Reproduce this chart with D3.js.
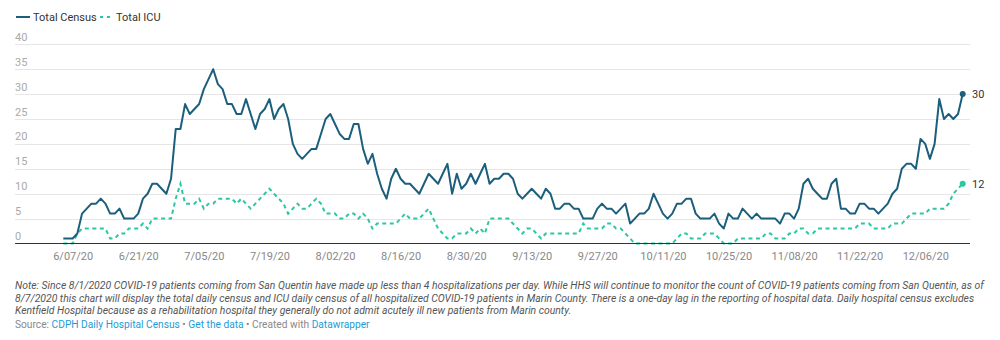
<!DOCTYPE html>
<html>
<head>
<meta charset="utf-8">
<script src="https://cdn.jsdelivr.net/npm/d3@7"></script>
<style>
  body { margin: 0; background: #fff; font-family: Roboto, "Noto Sans", sans-serif; }
  svg { display: block; }
</style>
</head>
<body>
<div id="chart"></div>
<script>
// daily values, first day 6/05/20, last day 12/14/20
var startDate = "2020-06-05";
var census = [
  1,1,1,2,6,7,8,8,9,8,
  6,6,7,5,5,5,6,9,10,12,
  12,11,10,13,23,23,28,26,27,28,
  31,33,35,32,31,28,28,26,26,29,
  26,23,26,27,29,25,27,28,25,20,
  18,17,18,19,19,22,25,26,24,22,
  21,21,24,24,19,16,18,14,11,9,
  13,15,13,12,12,11,10,12,14,13,
  12,14,16,10,14,11,12,14,12,14,
  16,12,13,13,14,14,13,10,9,10,
  11,10,9,11,10,7,7,8,8,7,
  7,5,5,5,7,8,7,7,6,7,
  8,4,5,6,6,7,10,8,6,5,
  6,8,8,9,9,6,5,5,5,6,
  4,3,6,5,5,7,6,5,6,5,
  5,5,5,4,6,6,5,7,12,13,
  11,10,9,9,12,13,7,7,6,6,
  8,8,7,7,6,7,8,10,11,15,
  16,16,15,21,20,17,20,29,25,26,
  25,26,30
];
var icu = [
  0,0,0,2,3,3,3,3,3,3,
  1,1,2,2,3,3,3,4,3,5,
  5,5,5,5,9,12,8,8,8,9,
  7,8,8,9,9,9,9,8,9,8,
  7,8,9,10,11,10,9,8,6,7,
  8,7,7,8,9,8,6,6,6,5,
  5,6,6,5,6,5,3,4,4,4,
  4,4,5,6,5,5,5,6,7,5,
  3,2,1,1,2,2,2,3,2,3,
  2,5,5,5,5,5,4,3,2,3,
  3,2,1,2,2,2,2,2,2,2,
  2,4,3,3,3,3,4,4,3,3,
  2,1,0,0,0,0,0,0,0,0,
  0,1,2,2,1,1,1,2,2,2,
  1,0,0,0,1,1,1,1,1,1,
  2,2,1,1,1,2,2,3,3,2,
  2,3,3,3,3,3,3,3,3,3,
  4,4,4,3,3,3,3,4,4,4,
  5,6,6,6,6,7,7,7,7,8,
  10,11,12
];
var xTicks = ["2020-06-07","2020-06-21","2020-07-05","2020-07-19","2020-08-02","2020-08-16","2020-08-30",
  "2020-09-13","2020-09-27","2020-10-11","2020-10-25","2020-11-08","2020-11-22","2020-12-06"];
var yTicks = [0,5,10,15,20,25,30,35,40];
var seriesNames = ["Total Census", "Total ICU"];
var noteLines = [
  "Note: Since 8/1/2020 COVID-19 patients coming from San Quentin have made up less than 4 hospitalizations per day. While HHS will continue to monitor the count of COVID-19 patients coming from San Quentin, as of",
  "8/7/2020 this chart will display the total daily census and ICU daily census of all hospitalized COVID-19 patients in Marin County. There is a one-day lag in the reporting of hospital data. Daily hospital census excludes",
  "Kentfield Hospital because as a rehabilitation hospital they generally do not admit acutely ill new patients from Marin county."
];

var width = 1000, height = 340
var colors = {census: '#1c5f7c', icu: '#2cc7a2'}

var parse = d3.timeParse("%Y-%m-%d"),
  fmt = d3.timeFormat("%-m/%d/%y"),
  t0 = parse(startDate)

var rows = census.map(function(v, i){ return {date: d3.timeDay.offset(t0, i), census: v, icu: icu[i]} })

var svg = d3.select("#chart").append("svg")
  .attr("width", width).attr("height", height)

var x = d3.scaleTime()
  .domain([t0, rows[rows.length-1].date])
  .range([63.3, 962.7])
var y = d3.scaleLinear().domain([0, 40]).range([243.5, 44.3])

// gridlines + y labels
var grid = svg.append("g")
grid.selectAll("line").data(yTicks.filter(function(d){ return d > 0 }))
  .enter().append("line")
  .attr("x1", 15).attr("x2", 970)
  .attr("y1", function(d){ return Math.round(y(d)) + 0.5 })
  .attr("y2", function(d){ return Math.round(y(d)) + 0.5 })
  .attr("stroke", "#e6e6e6").attr("stroke-width", 1)
grid.selectAll("text").data(yTicks)
  .enter().append("text")
  .attr("x", 15).attr("y", function(d){ return y(d) - 3.5 })
  .attr("font-size", 11).attr("fill", "#aaaaaa")
  .text(function(d){ return d })

// x axis
var xAxis = svg.append("g")
  .attr("transform", "translate(0,243.5)")
  .call(d3.axisBottom(x).tickValues(xTicks.map(parse)).tickFormat(fmt).tickSize(0).tickPadding(9))
xAxis.select(".domain").remove()
xAxis.selectAll("text").attr("font-size", 11).attr("fill", "#888").attr("font-family", "Roboto")

// lines
var line = function(key){
  return d3.line().x(function(d){ return x(d.date) }).y(function(d){ return y(d[key]) })
}
svg.append("path").datum(rows)
  .attr("d", line("icu"))
  .attr("fill", "none").attr("stroke", colors.icu)
  .attr("stroke-width", 2).attr("stroke-dasharray", "4,3.5")
svg.append("path").datum(rows)
  .attr("d", line("census"))
  .attr("fill", "none").attr("stroke", colors.census)
  .attr("stroke-width", 2).attr("stroke-linejoin", "round")

svg.append("line")
  .attr("x1", 15).attr("x2", 970).attr("y1", 243.5).attr("y2", 243.5)
  .attr("stroke", "#333").attr("stroke-width", 1)

// end points
var last = rows[rows.length-1]
;[["census", colors.census], ["icu", colors.icu]].forEach(function(s){
  svg.append("circle").attr("cx", x(last.date)).attr("cy", y(last[s[0]])).attr("r", 3).attr("fill", s[1])
  svg.append("text").attr("x", 972).attr("y", y(last[s[0]]) + 4)
    .attr("font-size", 11).attr("fill", "#333").text(last[s[0]])
})

// legend
var legend = svg.append("g").attr("transform", "translate(16,17)")
legend.append("line").attr("x1", 0).attr("x2", 14).attr("stroke", colors.census).attr("stroke-width", 2)
legend.append("text").attr("x", 17).attr("y", 4).attr("font-size", 11).attr("fill", "#333").text(seriesNames[0])
legend.append("line").attr("x1", 84).attr("x2", 96).attr("stroke", colors.icu)
  .attr("stroke-width", 2).attr("stroke-dasharray", "3,4")
legend.append("text").attr("x", 100).attr("y", 4).attr("font-size", 11).attr("fill", "#333").text(seriesNames[1])

// notes
svg.append("g").selectAll("text").data(noteLines)
  .enter().append("text")
  .attr("x", 15).attr("y", function(d, i){ return 289 + i * 12.5 })
  .attr("font-size", 10.4).attr("font-style", "italic").attr("fill", "#555")
  .text(function(d){ return d })

var src = svg.append("text").attr("x", 15).attr("y", 328).attr("font-size", 10.2).attr("fill", "#888")
src.append("tspan").text("Source: ")
src.append("tspan").attr("fill", "#1d9bd6").text("CDPH Daily Hospital Census")
src.append("tspan").text(" • ")
src.append("tspan").attr("fill", "#1d9bd6").text("Get the data")
src.append("tspan").text(" • Created with ")
src.append("tspan").attr("fill", "#1d9bd6").text("Datawrapper")
</script>
</body>
</html>
